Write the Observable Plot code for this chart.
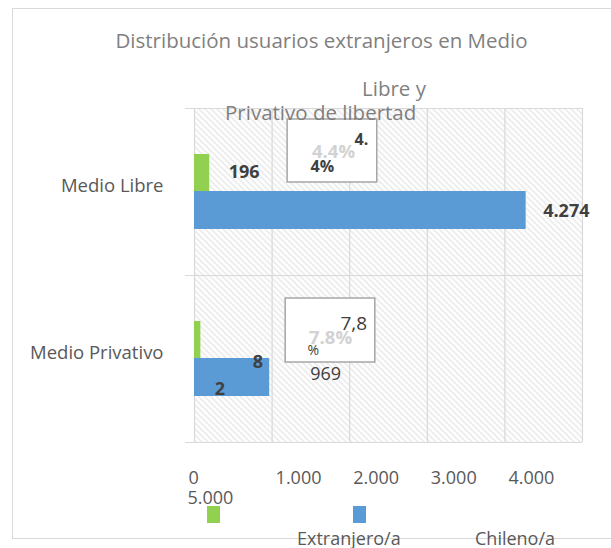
<!DOCTYPE html>
<html>
<head>
<meta charset="utf-8">
<script src="https://cdn.jsdelivr.net/npm/d3@7"></script>
<script src="https://cdn.jsdelivr.net/npm/@observablehq/plot@0.6"></script>
<style>
  html, body { margin: 0; padding: 0; background: #fff; }
  #wrap { position: relative; width: 611px; height: 548px; overflow: hidden; font-family: "Open Sans", sans-serif; }
  #border { position: absolute; left: 12px; top: 8px; width: 640px; height: 531px; border: 1px solid #d9d9d9; box-sizing: border-box; }
  #chart { position: absolute; left: 0; top: 0; }
  .t { position: absolute; white-space: nowrap; color: #7f7f7f; line-height: 28px; }
  .sw { position: absolute; width: 13px; height: 17px; }
</style>
</head>
<body>
<div id="wrap">
  <div id="border"></div>
  <div id="chart"></div>
  <div class="t" id="title" style="left:0;width:643px;text-align:center;top:26px;font-size:20.5px;">Distribución usuarios extranjeros en Medio</div>
  <div class="t" style="left:362px;top:74px;font-size:20.5px;">Libre y</div>
  <div class="t" style="left:225px;top:98px;font-size:20.5px;">Privativo de libertad</div>
  <div class="sw" id="sw1" style="left:207px;top:506px;"></div>
  <div class="sw" id="sw2" style="left:353px;top:506px;"></div>
  <div class="t" id="lg1" style="left:297px;top:524px;font-size:18px;color:#595959;"></div>
  <div class="t" id="lg2" style="left:475px;top:524px;font-size:18px;color:#595959;"></div>
</div>
<script>
const categories = ["Medio Libre", "Medio Privativo"];
const seriesNames = ["Extranjero/a", "Chileno/a"];
const extranjero = [196, 82];
const chileno = [4274, 969];
const xTicks = [0, 1000, 2000, 3000, 4000, 5000];

const colors = {ext: "#92d050", chi: "#5b9bd5"};
const rows = categories.map((c, i) => ({cat: c, ext: extranjero[i], chi: chileno[i]}));
rows.forEach(r => { r.pct = d3.format(".1f")(r.ext / (r.ext + r.chi) * 100); });

const loc = d3.formatLocale({decimal: ",", thousands: ".", grouping: [3], currency: ["", ""]});
const fmt = loc.format(",d");
const half = 167 / 2;
const dark = "#404040";
const grid = "#d9d9d9";
const font = "Open Sans";

const plot = Plot.plot({
  width: 611,
  height: 548,
  marginTop: 108,
  marginBottom: 106,
  marginLeft: 194,
  marginRight: 29,
  style: {fontFamily: font, background: "transparent", overflow: "visible"},
  x: {domain: [0, 5000], axis: null},
  y: {domain: categories, padding: 0, axis: null},
  marks: [
    Plot.frame({fill: "url(#hatch)", stroke: "none"}),
    Plot.gridX(xTicks, {stroke: grid, strokeOpacity: 1, strokeWidth: 1.2}),
    Plot.ruleY(categories, {y: d => d, dy: -half, insetLeft: -9, stroke: grid, strokeWidth: 1.2}),
    Plot.ruleY(categories.slice(-1), {y: d => d, dy: half, insetLeft: -9, stroke: grid, strokeWidth: 1.2}),
    Plot.barX(rows, {x: "ext", y: "cat", fill: colors.ext, insetTop: 46, insetBottom: 83}),
    Plot.barX(rows, {x: "chi", y: "cat", fill: colors.chi, insetTop: 83, insetBottom: 46}),
    // percentage callout boxes
    Plot.barX(rows.slice(0, 1), {x1: 1200, x2: 2355, y: "cat", insetTop: 11, insetBottom: 93, fill: "white", stroke: "#a6a6a6", strokeWidth: 1.5}),
    Plot.barX(rows.slice(1, 2), {x1: 1175, x2: 2330, y: "cat", insetTop: 23, insetBottom: 80, fill: "white", stroke: "#a6a6a6", strokeWidth: 1.5}),
    Plot.text(rows.slice(0, 1), {y: "cat", frameAnchor: "left", textAnchor: "middle", dx: 139, dy: -39.5, text: d => d.pct + "%", fill: "#d2d2d2", fontSize: 18.5, fontWeight: "bold"}),
    Plot.text(rows.slice(1, 2), {y: "cat", frameAnchor: "left", textAnchor: "middle", dx: 136, dy: -20.5, text: d => d.pct + "%", fill: "#d2d2d2", fontSize: 18.5, fontWeight: "bold"}),
    Plot.text(rows.slice(0, 1), {y: "cat", frameAnchor: "left", textAnchor: "start", dx: 160, dy: -52.5, text: d => d.pct.slice(0, 2), fill: dark, fontSize: 16, fontWeight: "bold"}),
    Plot.text(rows.slice(0, 1), {y: "cat", frameAnchor: "left", textAnchor: "start", dx: 116, dy: -25.5, text: d => d.pct.slice(2) + "%", fill: dark, fontSize: 16, fontWeight: "bold"}),
    Plot.text(rows.slice(1, 2), {y: "cat", frameAnchor: "left", textAnchor: "start", dx: 146, dy: -35.5, text: d => d.pct.replace(".", ","), fill: dark, fontSize: 19}),
    Plot.text(rows.slice(1, 2), {y: "cat", frameAnchor: "left", textAnchor: "start", dx: 113, dy: -8.5, text: () => "%", fill: dark, fontSize: 14}),
    // value labels
    Plot.text(rows.slice(0, 1), {x: "ext", y: "cat", text: d => fmt(d.ext), textAnchor: "start", dx: 19, dy: -20, fill: dark, fontSize: 18, fontWeight: "bold"}),
    Plot.text(rows.slice(0, 1), {x: "chi", y: "cat", text: d => fmt(d.chi), textAnchor: "start", dx: 17, dy: 19, fill: dark, fontSize: 18, fontWeight: "bold"}),
    Plot.text(rows.slice(1, 2), {x: "ext", y: "cat", text: d => fmt(d.ext).slice(0, 1), dx: 57, dy: 3, fill: dark, fontSize: 18, fontWeight: "bold"}),
    Plot.text(rows.slice(1, 2), {x: "ext", y: "cat", text: d => fmt(d.ext).slice(1), dx: 19, dy: 30, fill: dark, fontSize: 18, fontWeight: "bold"}),
    Plot.text(rows.slice(1, 2), {x: "chi", y: "cat", text: d => fmt(d.chi), dx: 56, dy: 15, fill: dark, fontSize: 18}),
    // axes
    Plot.axisY({tickSize: 0, tickPadding: 31, dy: -6, fontSize: 18.5, color: "#595959", label: null}),
    Plot.axisX(xTicks.slice(0, 1), {tickSize: 0, tickPadding: 29, textAnchor: "start", dx: -6, fontSize: 18, color: "#595959", label: null, tickFormat: fmt}),
    Plot.axisX(xTicks.slice(1, 5), {tickSize: 0, tickPadding: 29, textAnchor: "start", dx: 3.5, fontSize: 18, color: "#595959", label: null, tickFormat: fmt}),
    Plot.axisX(xTicks.slice(5), {tickSize: 0, tickPadding: 49, textAnchor: "start", dx: -395, fontSize: 18, color: "#595959", label: null, tickFormat: fmt})
  ]
});

// hatch pattern for the plot area
const ns = "http://www.w3.org/2000/svg";
const defs = document.createElementNS(ns, "defs");
const pat = document.createElementNS(ns, "pattern");
pat.setAttribute("id", "hatch");
pat.setAttribute("patternUnits", "userSpaceOnUse");
pat.setAttribute("width", "6");
pat.setAttribute("height", "6");
const bg = document.createElementNS(ns, "rect");
bg.setAttribute("width", "6"); bg.setAttribute("height", "6"); bg.setAttribute("fill", "#ffffff");
const p = document.createElementNS(ns, "path");
p.setAttribute("d", "M0,0L6,6M-1,5L1,7M5,-1L7,1");
p.setAttribute("stroke", "#e6e6e6");
p.setAttribute("stroke-width", "1.5");
pat.appendChild(bg); pat.appendChild(p); defs.appendChild(pat);
plot.insertBefore(defs, plot.firstChild);

document.getElementById("chart").appendChild(plot);
document.getElementById("sw1").style.background = colors.ext;
document.getElementById("sw2").style.background = colors.chi;
document.getElementById("lg1").textContent = seriesNames[0];
document.getElementById("lg2").textContent = seriesNames[1];
</script>
</body>
</html>
